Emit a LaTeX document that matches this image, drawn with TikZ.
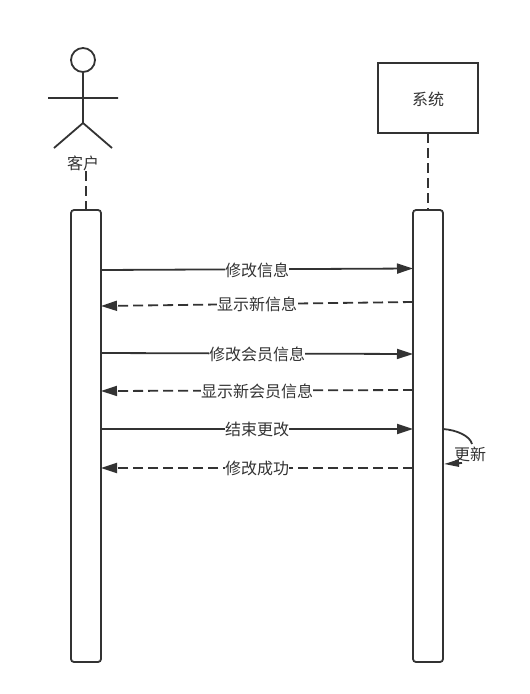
\documentclass[tikz,border=0pt]{standalone}
\usepackage{fontspec}
\setmainfont{Noto Sans CJK SC}
\usetikzlibrary{arrows.meta}
\definecolor{ink}{HTML}{333333}
\tikzset{
  x=1pt,y=-1pt,
  base/.style={draw=ink,line width=1.8pt},
  life/.style={base,rounded corners=3pt,fill=white,minimum width=30pt,inner sep=0pt,outer sep=0pt,anchor=north west},
  txt/.style={text=ink,font=\fontsize{16}{16}\selectfont,inner sep=0pt},
  lab/.style={txt,fill=white},
  msg/.style={base,-{Triangle[length=16pt,width=10pt,fill=ink]}},
  ret/.style={msg,dash pattern=on 10pt off 5pt},
  lifedash/.style={base,dash pattern=on 10pt off 5pt},
}
\begin{document}
\begin{tikzpicture}
\useasboundingbox[fill=white] (0,0) rectangle (530,694);
% actor
\node[base,circle,minimum size=24pt,inner sep=0pt,outer sep=0pt] (head) at (83,60) {};
\coordinate (hip) at (83,123);
\coordinate (armL) at (48,98);
\coordinate (armR) at (118,98);
\coordinate (legL) at (54,148);
\coordinate (legR) at (112,148);
\draw[base] (head.south) -- (hip) (armL) -- (armR) (legL) -- (hip) -- (legR);
\node[txt] (cust) at (83,163.5) {客户};
% system
\node[base,minimum width=100pt,minimum height=70pt,inner sep=0pt,outer sep=0pt,anchor=north west] (sys) at (378,63) {};
\node[txt] (sysl) at (428,99) {系统};
% lifelines
\node[life,minimum height=452pt] (L) at (71,210) {};
\node[life,minimum height=452pt] (R) at (413,210) {};
\coordinate (custb) at (86,171);
\draw[lifedash] (custb) -- (custb |- L.north);
\draw[lifedash] (sys.south) -- (R.north);
% message end points
\foreach \n/\ya/\yb in {a/270/268.5,b/306/302,c/353/354,d/391/390,e/429/429,f/468/468}{
  \coordinate (l\n) at (101,\ya);
  \coordinate (r\n) at (413,\yb);
}
\draw[msg] (la) -- (ra);
\draw[ret] (rb) -- (lb);
\draw[msg] (lc) -- (rc);
\draw[ret] (rd) -- (ld);
\draw[msg] (le) -- (re);
\draw[ret] (rf) -- (lf);
\node[lab] (ta) at (257,270) {修改信息};
\node[lab] (tb) at (257,304.5) {显示新信息};
\node[lab] (tc) at (257,354) {修改会员信息};
\node[lab] (td) at (257,391.5) {显示新会员信息};
\node[lab] (te) at (257,429.5) {结束更改};
\node[lab] (tf) at (257,468.5) {修改成功};
% self message
\coordinate (sa) at (443,429);
\coordinate (sb) at (472,444);
\coordinate (sc) at (462,463);
\coordinate (sd) at (444,464);
\draw[base] (sa) .. controls (457,430) and (470,436) .. (sb);
\draw[base,-{Triangle[length=15pt,width=7pt,fill=ink]}] (sc) -- (sd);
\node[txt] (ts) at (470,454) {更新};
\end{tikzpicture}
\end{document}
